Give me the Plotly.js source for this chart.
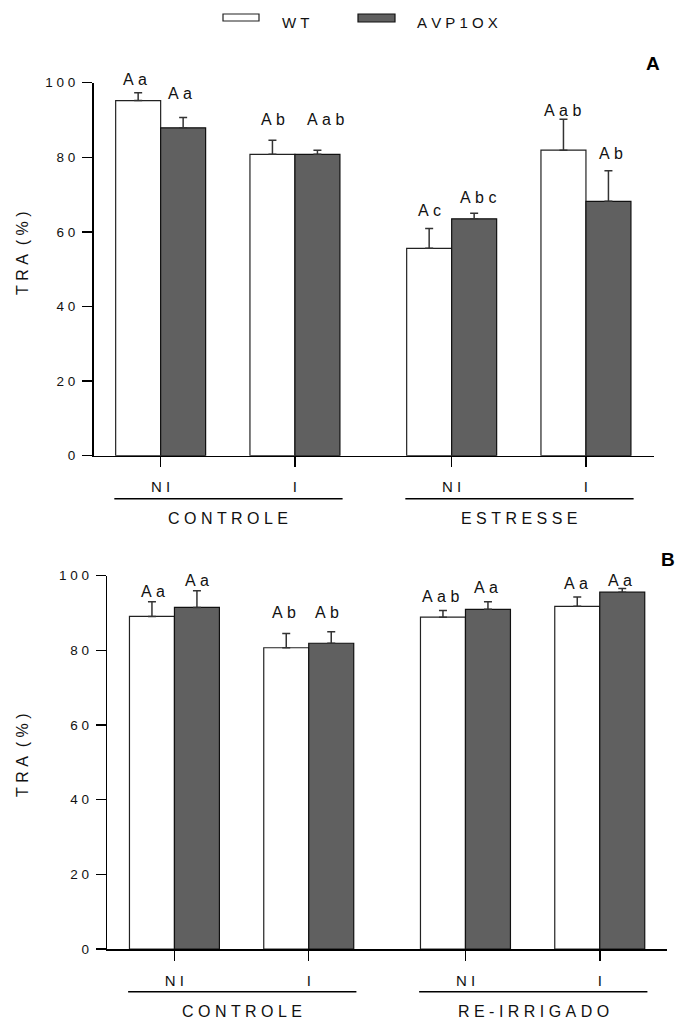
<!DOCTYPE html>
<html><head><meta charset="utf-8">
<script src="https://cdn.plot.ly/plotly-3.0.1.min.js"></script>
<style>html,body{margin:0;padding:0;background:#fff}</style>
</head><body><div id="chart" style="width:676px;height:1021px"></div>
<script>
// ---------- data ----------
const tickLabels = ['N I', 'I', 'N I', 'I'];
const groupsA = ['C O N T R O L E', 'E S T R E S S E'];
const groupsB = ['C O N T R O L E', 'R E - I R R I G A D O'];
const seriesNames = ['W T', 'A V P 1 O X'];
const yTickVals = [0, 20, 40, 60, 80, 100];
const yTickText = ['0', '2 0', '4 0', '6 0', '8 0', '1 0 0'];
const yTitle = 'T R A  ( % )';

// Panel A
const wtA = [95.2, 80.8, 55.6, 81.9];
const wtAerr = [2.1, 3.8, 5.3, 8.3];
const avpA = [87.9, 80.8, 63.5, 68.2];
const avpAerr = [2.8, 1.1, 1.5, 8.2];
const wtAletters = ['A a', 'A b', 'A c', 'A a b'];
const avpAletters = ['A a', 'A a b', 'A b c', 'A b'];

// Panel B
const wtB = [89.1, 80.7, 88.9, 91.8];
const wtBerr = [3.9, 3.8, 1.8, 2.5];
const avpB = [91.5, 81.9, 91.0, 95.6];
const avpBerr = [4.5, 3.1, 2.0, 1.0];
const wtBletters = ['A a', 'A b', 'A a b', 'A a'];
const avpBletters = ['A a', 'A b', 'A a', 'A a'];

// ---------- layout helpers ----------
const W = 676, H = 1021;
const FONT = '"Liberation Sans", Arial, Helvetica, sans-serif';
const groupPos = [0.5, 1.5, 2.667, 3.667];
const bw = 0.335;
const xr = [0, 4.17];
const px = v => v / W;
const py = v => 1 - v / H;
const sp = s => s.replace(/ /g, '\u00a0');

const darkFill = '#606060';

function barTraces(xa, ya, wt, wtErr, avp, avpErr) {
  const zeros = wt.map(() => 0);
  return [
    {type: 'bar', x: groupPos.map(p => p - bw / 2), y: wt, width: bw, xaxis: xa, yaxis: ya,
     name: seriesNames[0], showlegend: false,
     marker: {color: '#ffffff', line: {color: '#222', width: 1.2}},
     error_y: {type: 'data', symmetric: false, array: wtErr, arrayminus: zeros, color: '#333', thickness: 1.5, width: 4}},
    {type: 'bar', x: groupPos.map(p => p + bw / 2), y: avp, width: bw, xaxis: xa, yaxis: ya,
     name: seriesNames[1], showlegend: false,
     marker: {color: darkFill, line: {color: '#111', width: 1.2}},
     error_y: {type: 'data', symmetric: false, array: avpErr, arrayminus: zeros, color: '#333', thickness: 1.5, width: 4}}
  ];
}

const data = [
  ...barTraces('x', 'y', wtA, wtAerr, avpA, avpAerr),
  ...barTraces('x2', 'y2', wtB, wtBerr, avpB, avpBerr)
];

function xaxisDef(domain) {
  return {domain: domain, range: xr, showline: true, linewidth: 1.6, linecolor: '#000',
    showgrid: false, zeroline: false, ticks: 'outside', ticklen: 10, tickwidth: 1.5, tickcolor: '#000',
    tickvals: groupPos, ticktext: tickLabels.map(sp), ticklabelstandoff: 7,
    tickfont: {family: FONT, size: 15, color: '#111'}, fixedrange: true};
}
function yaxisDef(domain, anchor) {
  return {domain: domain, anchor: anchor, range: [0, 100], showline: true, linewidth: 1.6, linecolor: '#000',
    showgrid: false, zeroline: false, ticks: 'outside', ticklen: 10, tickwidth: 1.5, tickcolor: '#000',
    tickvals: yTickVals, ticktext: yTickText.map(sp), ticklabelstandoff: 4,
    tickfont: {family: FONT, size: 13.5, color: '#111'}, fixedrange: true};
}

const annotations = [];
const shapes = [];

function letterAnn(xa, ya, vals, errs, letters, side, yshifts, xshifts) {
  vals.forEach((v, i) => {
    annotations.push({xref: xa, yref: ya, x: groupPos[i] + side * bw / 2, y: v + errs[i],
      text: sp(letters[i]), showarrow: false, xanchor: 'center', yanchor: 'middle',
      yshift: yshifts[i], xshift: xshifts[i],
      font: {family: FONT, size: 16, color: '#111'}});
  });
}
letterAnn('x', 'y', wtA, wtAerr, wtAletters, -1, [13, 21, 18, 9], [-3, 1, 0, -1]);
letterAnn('x', 'y', avpA, avpAerr, avpAletters, 1, [24, 31, 16, 17], [-3, 8, 4, 3]);
letterAnn('x2', 'y2', wtB, wtBerr, wtBletters, -1, [10, 21, 14, 13], [1, -2, -2, -1]);
letterAnn('x2', 'y2', avpB, avpBerr, avpBletters, 1, [10, 19, 14, 8], [0, -4, -2, -2]);

// group lines and labels
function groupDecor(xa, lineY, labelY, labels) {
  [[0, 1], [2, 3]].forEach((pair, k) => {
    const x0 = groupPos[pair[0]] - bw - 0.01;
    const x1 = groupPos[pair[1]] + bw + 0.02;
    shapes.push({type: 'line', xref: xa, yref: 'paper', x0: x0, x1: x1, y0: py(lineY), y1: py(lineY),
      line: {color: '#000', width: 1.6}});
    annotations.push({xref: xa, yref: 'paper', x: (x0 + x1) / 2, y: py(labelY), text: sp(labels[k]),
      showarrow: false, xanchor: 'center', yanchor: 'middle',
      font: {family: FONT, size: 16, color: '#111'}});
  });
}
groupDecor('x', 498.7, 518, groupsA);
groupDecor('x2', 991.7, 1011.7, groupsB);

// y titles
annotations.push({xref: 'paper', yref: 'paper', x: px(22), y: py(253), text: sp(yTitle), textangle: -90,
  showarrow: false, xanchor: 'center', yanchor: 'middle', font: {family: FONT, size: 16, color: '#111'}});
annotations.push({xref: 'paper', yref: 'paper', x: px(22), y: py(755), text: sp(yTitle), textangle: -90,
  showarrow: false, xanchor: 'center', yanchor: 'middle', font: {family: FONT, size: 16, color: '#111'}});

// panel letters
annotations.push({xref: 'paper', yref: 'paper', x: px(653), y: py(63), text: '<b>A</b>', showarrow: false,
  xanchor: 'center', yanchor: 'middle', font: {family: FONT, size: 19, color: '#000'}});
annotations.push({xref: 'paper', yref: 'paper', x: px(668), y: py(559), text: '<b>B</b>', showarrow: false,
  xanchor: 'center', yanchor: 'middle', font: {family: FONT, size: 19, color: '#000'}});

// legend (drawn)
shapes.push({type: 'rect', xref: 'paper', yref: 'paper', x0: px(223), x1: px(259), y0: py(21), y1: py(14),
  fillcolor: '#fff', line: {color: '#222', width: 1.2}});
shapes.push({type: 'rect', xref: 'paper', yref: 'paper', x0: px(358), x1: px(395), y0: py(22), y1: py(14),
  fillcolor: darkFill, line: {color: '#111', width: 1.2}});
annotations.push({xref: 'paper', yref: 'paper', x: px(280), y: py(22.5), text: sp(seriesNames[0]), showarrow: false,
  xanchor: 'left', yanchor: 'middle', font: {family: FONT, size: 15, color: '#111'}});
annotations.push({xref: 'paper', yref: 'paper', x: px(415), y: py(22.5), text: sp(seriesNames[1]), showarrow: false,
  xanchor: 'left', yanchor: 'middle', font: {family: FONT, size: 15, color: '#111'}});

const layout = {
  width: W, height: H, margin: {l: 0, r: 0, t: 0, b: 0},
  paper_bgcolor: '#fff', plot_bgcolor: 'rgba(0,0,0,0)',
  barmode: 'overlay', showlegend: false,
  xaxis: Object.assign(xaxisDef([px(93.5), px(653.5)]), {anchor: 'y'}),
  yaxis: yaxisDef([py(455.7), py(82.7)], 'x'),
  xaxis2: Object.assign(xaxisDef([px(107.3), px(667.3)]), {anchor: 'y2'}),
  yaxis2: yaxisDef([py(949), py(575.7)], 'x2'),
  annotations: annotations, shapes: shapes
};

Plotly.newPlot('chart', data, layout, {staticPlot: true, displayModeBar: false});
</script></body></html>
